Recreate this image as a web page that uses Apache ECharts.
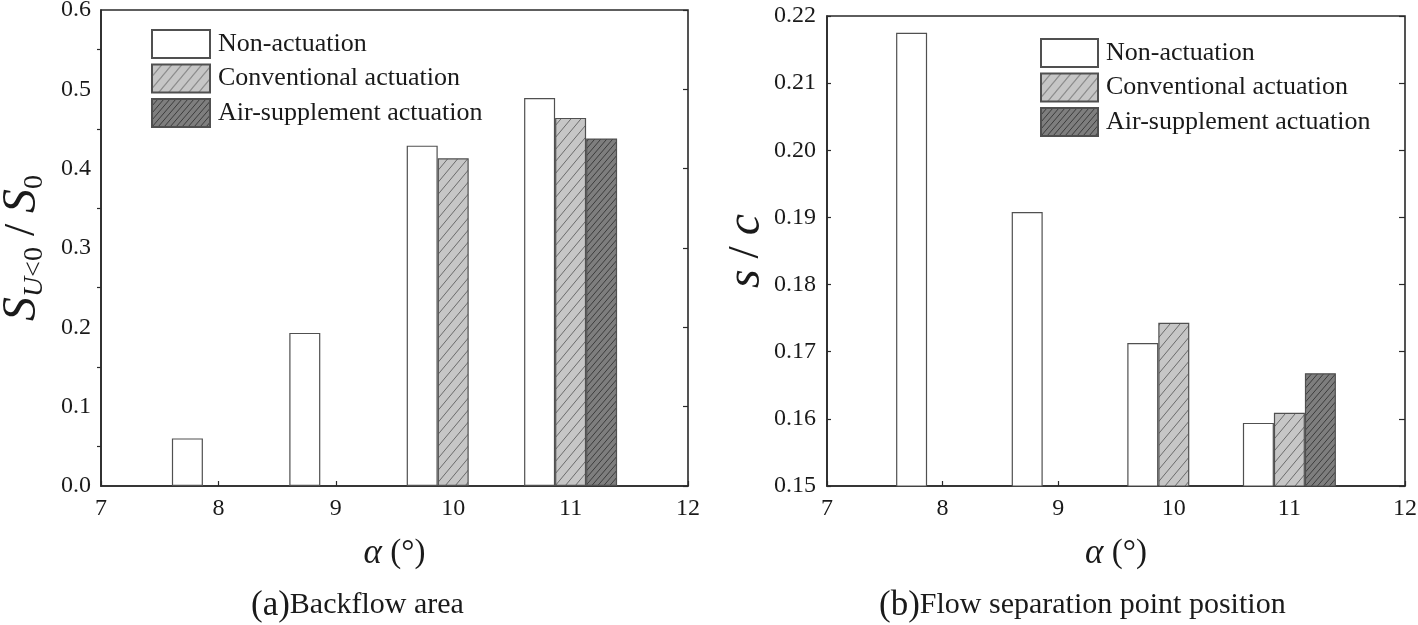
<!DOCTYPE html>
<html>
<head>
<meta charset="utf-8">
<script src="https://cdn.jsdelivr.net/npm/echarts@6/dist/echarts.min.js"></script>
<style>
html,body{margin:0;padding:0;background:#fff;}
#c{width:1418px;height:625px;}
</style>
</head>
<body>
<div id="c"></div>
<script>
// ---- data ----
const alpha = [8, 9, 10, 11];
const seriesNames = ['Non-actuation', 'Conventional actuation', 'Air-supplement actuation'];
// (a) Backflow area S_{U<0}/S_0
const backNon  = [0.060, 0.193, 0.429, 0.489];
const backConv = [null, null, 0.413, 0.464];
const backAir  = [null, null, null, 0.438];
// (b) Flow separation point position s/c
const sepNon  = [0.2175, 0.1908, 0.1713, 0.1594];
const sepConv = [null, null, 0.1743, 0.1609];
const sepAir  = [null, null, null, 0.1668];
const xTicks = [7, 8, 9, 10, 11, 12];
const yTicksA = [0.0, 0.1, 0.2, 0.3, 0.4, 0.5, 0.6];
const yTicksB = [0.15, 0.16, 0.17, 0.18, 0.19, 0.20, 0.21, 0.22];

// ---- styles ----
function hatch(bg, line, w, h, lw) {
  const c = document.createElement('canvas');
  c.width = w; c.height = h;
  const g = c.getContext('2d');
  g.fillStyle = bg; g.fillRect(0, 0, w, h);
  g.strokeStyle = line; g.lineWidth = lw;
  for (let k = -1; k <= 1; k++) {
    g.beginPath();
    g.moveTo(k * w, h);
    g.lineTo(k * w + w, 0);
    g.stroke();
  }
  return { image: c, repeat: 'repeat' };
}
const FONT = 'Liberation Serif';
const TXT = '#1a1a1a';
const fills = [
  '#ffffff',
  hatch('#c6c6c6', '#6a6a6a', 10, 12, 1),
  hatch('#7e7e7e', '#3c3c3c', 6, 7, 1)
];

function pairs(vals) {
  return alpha.map((a, i) => [a, vals[i]]).filter(p => p[1] !== null);
}

function barSeries(gi, vals, k) {
  return {
    name: seriesNames[k],
    type: 'bar',
    xAxisIndex: gi, yAxisIndex: gi * 2,
    data: pairs(vals),
    barWidth: 31,
    barGap: '0%',
    itemStyle: { color: fills[k], borderColor: '#505050', borderWidth: 1.2 },
    emphasis: { disabled: true },
    silent: true
  };
}

const axisLineStyle = { show: true, lineStyle: { color: '#2a2a2a', width: 1.6 } };

function xAxis(gi) {
  return {
    type: 'value', gridIndex: gi, min: xTicks[0], max: xTicks[xTicks.length - 1], interval: 1,
    axisLine: axisLineStyle,
    axisTick: { show: true, inside: true, length: 5, lineStyle: { color: '#2a2a2a', width: 1.2 } },
    splitLine: { show: false },
    axisLabel: { fontFamily: FONT, fontSize: 24, color: TXT, margin: 11 },
    name: '{a|α}{p| (°)}',
    nameLocation: 'middle',
    nameGap: 50,
    nameTextStyle: {
      rich: {
        a: { fontFamily: FONT, fontStyle: 'italic', fontSize: 35, color: TXT },
        p: { fontFamily: FONT, fontSize: 33, color: TXT }
      }
    }
  };
}

const option = {
  animation: false,
  backgroundColor: '#fff',
  grid: [
    { left: 101, top: 10, width: 587, height: 476, show: true, borderColor: '#2a2a2a', borderWidth: 1.6,
      containLabel: false, outerBoundsMode: 'none' },
    { left: 827, top: 16, width: 578, height: 470, show: true, borderColor: '#2a2a2a', borderWidth: 1.6,
      containLabel: false, outerBoundsMode: 'none' }
  ],
  legend: [
    {
      orient: 'vertical', left: 151, top: 29, padding: 0, itemWidth: 58, itemHeight: 28, itemGap: 4.5,
      data: seriesNames,
      textStyle: { fontFamily: FONT, fontSize: 26, color: TXT, padding: [0, 0, 0, 3] },
      selectedMode: false, icon: 'rect'
    },
    {
      orient: 'vertical', left: 1040, top: 38, padding: 0, itemWidth: 57, itemHeight: 28, itemGap: 4.5,
      data: seriesNames,
      textStyle: { fontFamily: FONT, fontSize: 26, color: TXT, padding: [0, 0, 0, 3] },
      selectedMode: false, icon: 'rect'
    }
  ],
  xAxis: [xAxis(0), xAxis(1)],
  yAxis: [
    {
      type: 'value', gridIndex: 0, min: yTicksA[0], max: yTicksA[yTicksA.length - 1], interval: 0.1,
      axisLine: axisLineStyle,
      axisTick: { show: false },
      minorTick: { show: true, splitNumber: 2, length: 4, lineStyle: { color: '#2a2a2a', width: 1.2 } },
      splitLine: { show: false },
      axisLabel: { fontFamily: FONT, fontSize: 24, color: TXT, margin: 10, formatter: v => v.toFixed(1) },
      name: '{S|S}{u|U}{s|<0}{n| / }{S|S}{z|0}',
      nameLocation: 'middle', nameRotate: 90, nameGap: 52,
      nameTextStyle: {
        rich: {
          S: { fontFamily: FONT, fontStyle: 'italic', fontSize: 48, color: TXT, lineHeight: 54 },
          u: { fontFamily: FONT, fontStyle: 'italic', fontSize: 28, color: TXT, verticalAlign: 'bottom', lineHeight: 30 },
          s: { fontFamily: FONT, fontSize: 28, color: TXT, verticalAlign: 'bottom', lineHeight: 30 },
          z: { fontFamily: FONT, fontSize: 28, color: TXT, verticalAlign: 'bottom', lineHeight: 30 },
          n: { fontFamily: FONT, fontSize: 44, color: TXT, lineHeight: 54 }
        }
      }
    },
    {
      type: 'value', gridIndex: 0, position: 'right', min: yTicksA[0], max: yTicksA[yTicksA.length - 1], interval: 0.1,
      axisLine: { show: false }, axisLabel: { show: false }, splitLine: { show: false },
      axisTick: { show: true, inside: true, length: 5, lineStyle: { color: '#2a2a2a', width: 1.2 } }
    },
    {
      type: 'value', gridIndex: 1, min: yTicksB[0], max: yTicksB[yTicksB.length - 1], interval: 0.01,
      axisLine: axisLineStyle,
      axisTick: { show: true, inside: true, length: 4, lineStyle: { color: '#2a2a2a', width: 1.2 } },
      splitLine: { show: false },
      axisLabel: { fontFamily: FONT, fontSize: 24, color: TXT, margin: 11, formatter: v => v.toFixed(2) },
      name: '{i|s}{n| / }{i|c}',
      nameLocation: 'middle', nameRotate: 90, nameGap: 56,
      nameTextStyle: {
        rich: {
          i: { fontFamily: FONT, fontStyle: 'italic', fontSize: 48, color: TXT },
          n: { fontFamily: FONT, fontSize: 44, color: TXT }
        }
      }
    },
    {
      type: 'value', gridIndex: 1, position: 'right', min: yTicksB[0], max: yTicksB[yTicksB.length - 1], interval: 0.01,
      axisLine: { show: false }, axisLabel: { show: false }, splitLine: { show: false },
      axisTick: { show: true, inside: true, length: 6, lineStyle: { color: '#2a2a2a', width: 1.2 } }
    }
  ],
  series: [
    barSeries(0, backNon, 0), barSeries(0, backConv, 1), barSeries(0, backAir, 2),
    barSeries(1, sepNon, 0), barSeries(1, sepConv, 1), barSeries(1, sepAir, 2)
  ],
  graphic: [
    {
      type: 'text', left: 251, top: 588,
      style: {
        text: '{p|(a)}{t|Backflow area}',
        rich: {
          p: { fontFamily: FONT, fontSize: 35, fill: TXT },
          t: { fontFamily: FONT, fontSize: 30, fill: TXT }
        }
      }
    },
    {
      type: 'text', left: 879, top: 588,
      style: {
        text: '{p|(b)}{t|Flow separation point position}',
        rich: {
          p: { fontFamily: FONT, fontSize: 35, fill: TXT },
          t: { fontFamily: FONT, fontSize: 30, fill: TXT }
        }
      }
    }
  ]
};

const chart = echarts.init(document.getElementById('c'), null, { renderer: 'canvas' });
chart.setOption(option);
</script>
</body>
</html>
